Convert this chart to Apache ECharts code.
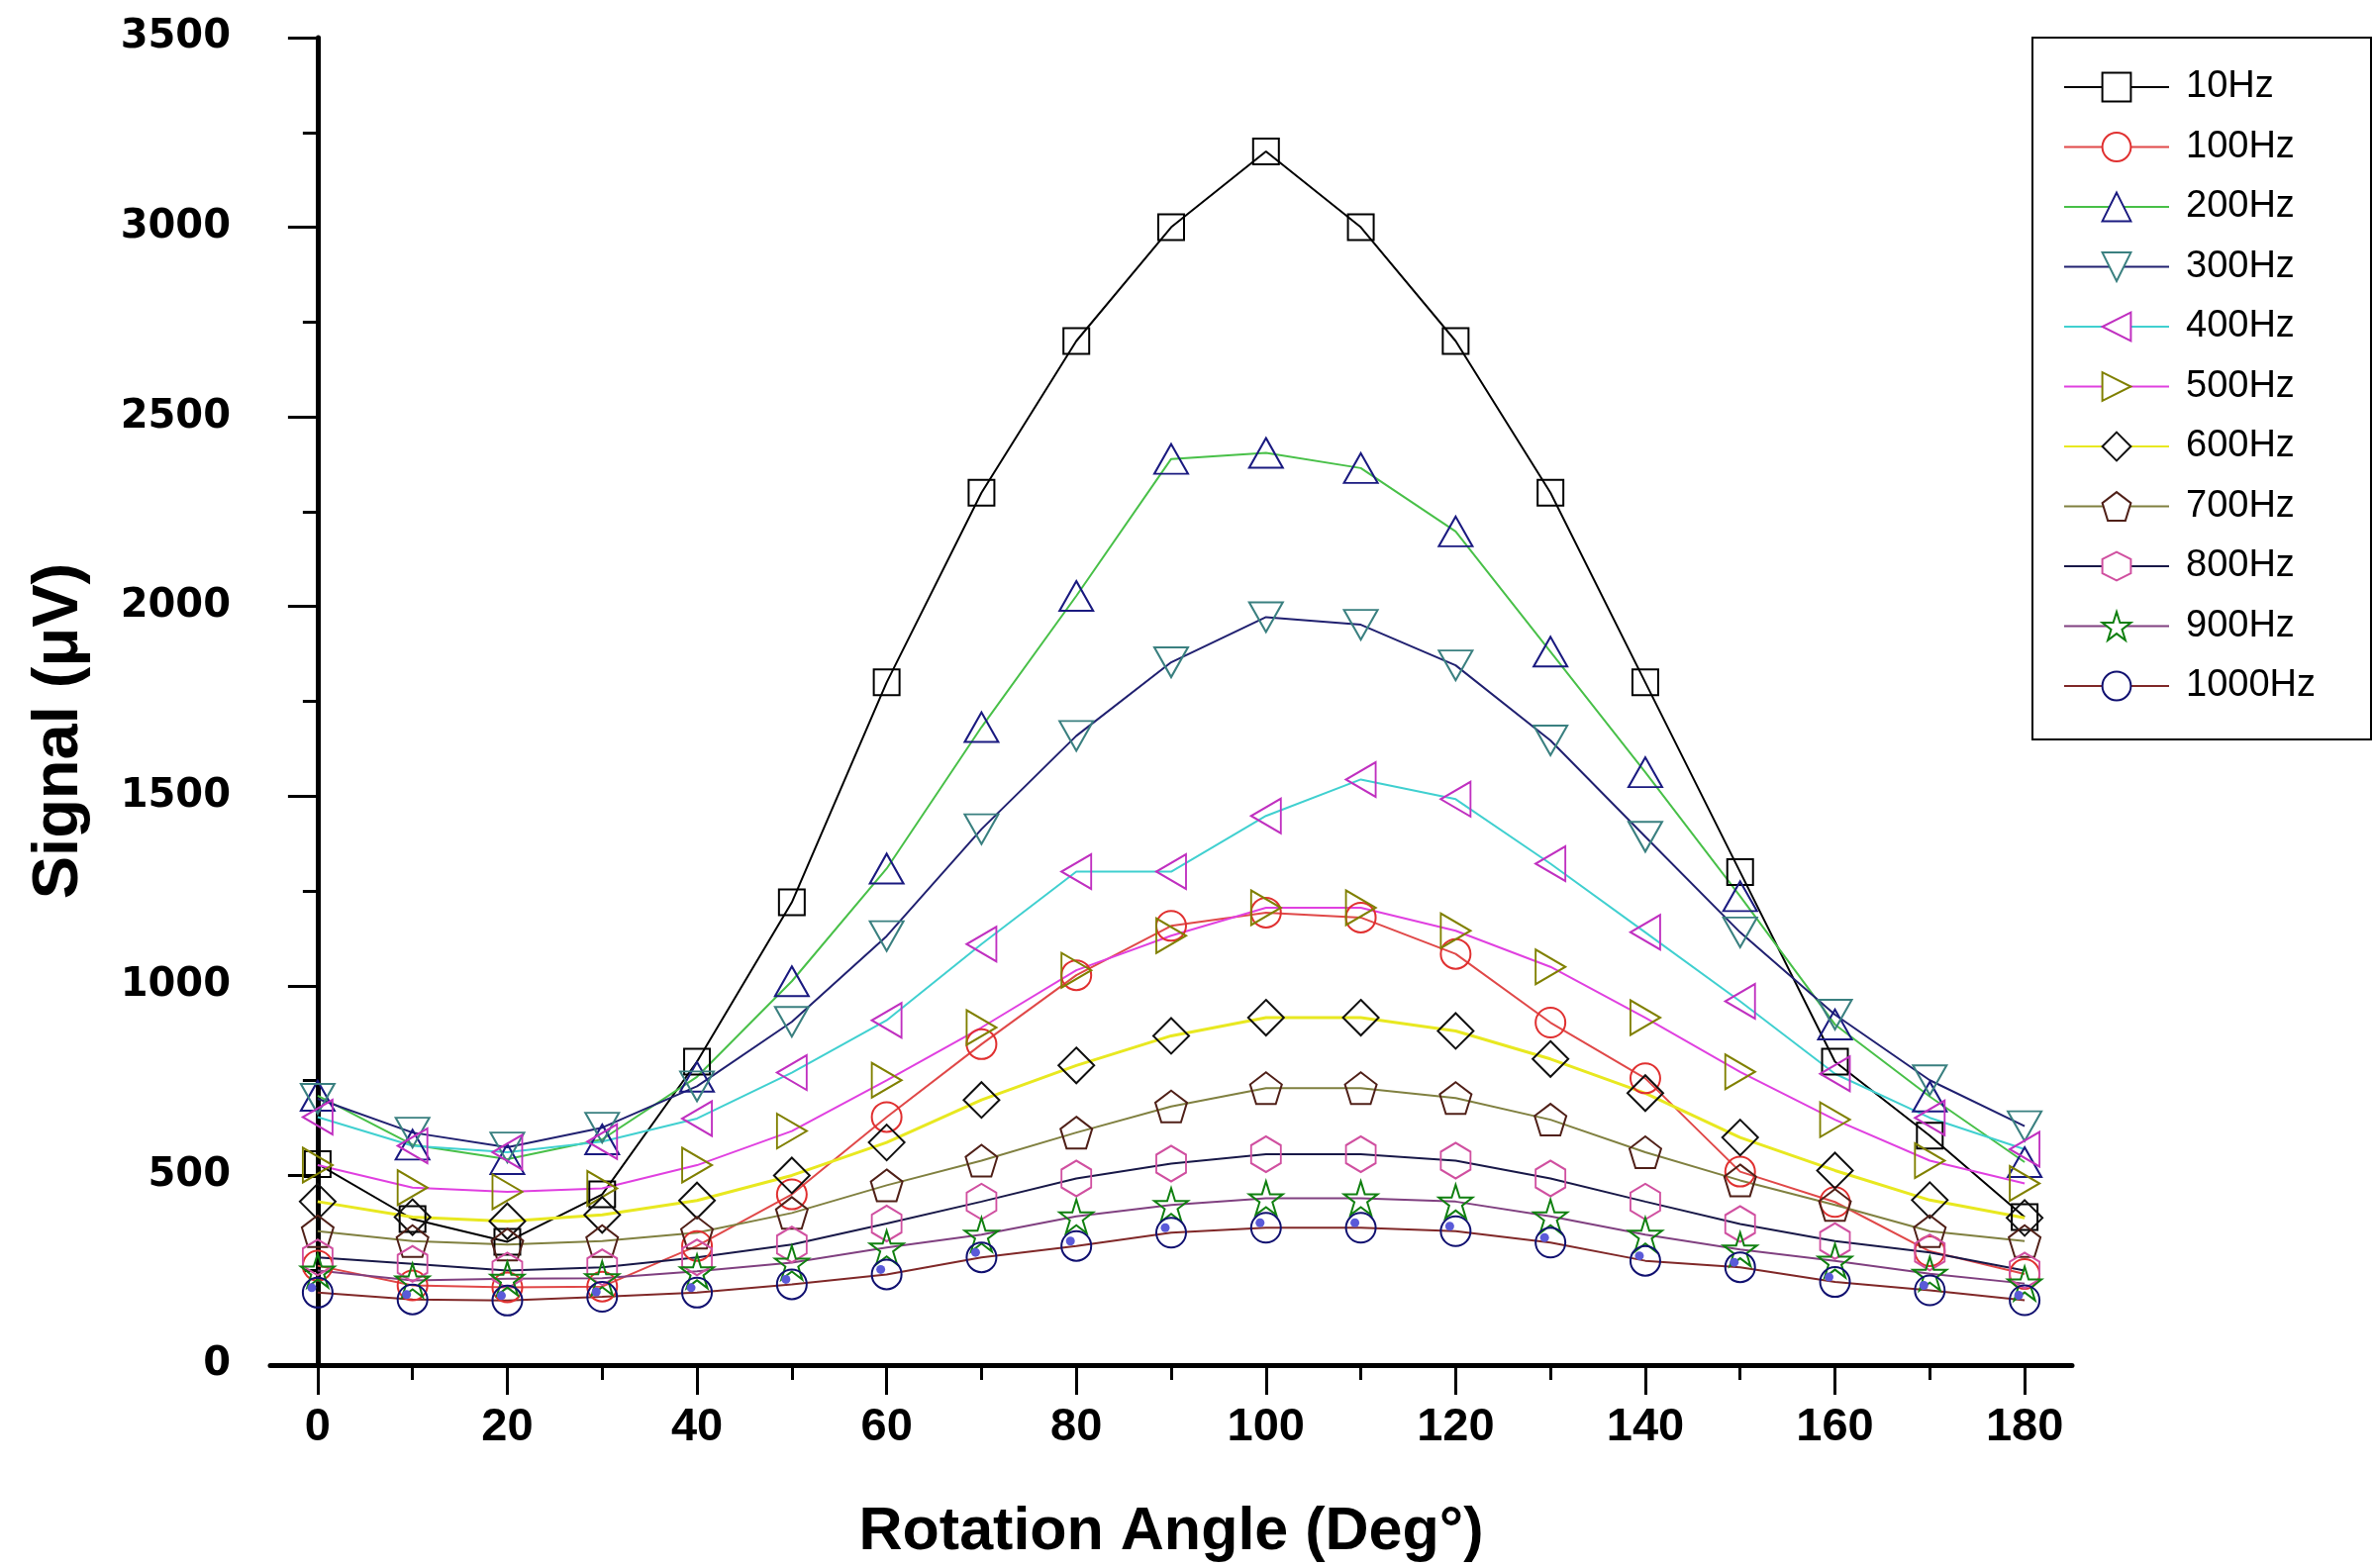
<!DOCTYPE html>
<html>
<head>
<meta charset="utf-8">
<script src="https://cdn.jsdelivr.net/npm/echarts@6/dist/echarts.min.js"></script>
<style>html,body{margin:0;padding:0;background:#fff;}#chart{width:2398px;height:1584px;}</style>
</head>
<body>
<div id="chart"></div>
<script>
// ---- data ----
var angles = [0,10,20,30,40,50,60,70,80,90,100,110,120,130,140,150,160,170,180];
var seriesNames = ['10Hz','100Hz','200Hz','300Hz','400Hz','500Hz','600Hz','700Hz','800Hz','900Hz','1000Hz'];
var s10   = [530,385,325,450,800,1220,1800,2300,2700,3000,3200,3000,2700,2300,1800,1300,800,605,390];
var s100  = [262,210,205,207,314,450,654,846,1028,1158,1193,1180,1084,903,756,510,430,300,240];
var s200  = [710,581,543,595,760,1012,1309,1682,2028,2389,2405,2365,2198,1881,1563,1236,898,708,535];
var s300  = [702,613,574,626,735,905,1131,1413,1659,1853,1972,1952,1845,1647,1393,1141,924,751,630];
var s400  = [654,578,561,589,650,771,909,1110,1301,1301,1448,1544,1492,1322,1141,959,768,652,569];
var s500  = [527,468,457,466,527,617,751,890,1041,1132,1206,1206,1145,1050,916,773,647,539,479];
var s600  = [431,390,379,396,434,500,587,699,790,868,916,916,881,807,717,600,513,435,388];
var s700  = [353,327,318,327,349,401,474,539,613,682,730,730,704,647,561,487,422,353,327];
var s800  = [284,267,249,258,284,318,373,431,492,531,556,556,539,492,431,372,327,297,249];
var s900  = [249,223,228,229,247,270,310,344,392,422,440,440,431,392,344,305,275,241,215];
var s1000 = [191,173,170,180,191,213,239,284,314,349,362,362,353,323,275,258,219,197,171];
var xMajorTicks = [0,20,40,60,80,100,120,140,160,180];
var xMinorTicks = [10,30,50,70,90,110,130,150,170];

var allValues = [s10,s100,s200,s300,s400,s500,s600,s700,s800,s900,s1000];

// ---- styles ----
var lineColors = ['#000000','#e04848','#48c048','#202070','#40d0d0','#e040e0','#e8e820','#808040','#181848','#804080','#802828'];
var markColors = ['#000000','#e03030','#1a1a80','#3a8080','#c030c0','#808000','#101010','#502018','#d050a0','#108010','#101070'];
var symbols = [
  'rect',
  'circle',
  'triangle',
  'path://M0,0 L100,0 L50,86.6 Z',
  'path://M86.6,0 L86.6,100 L0,50 Z',
  'path://M0,0 L86.6,50 L0,100 Z',
  'diamond',
  'path://M50,0 L97.55,34.55 L79.39,90.45 L20.61,90.45 L2.45,34.55 Z',
  'path://M50,0 L93.3,25 L93.3,75 L50,100 L6.7,75 L6.7,25 Z',
  'path://M50,0 L61.23,34.55 L97.55,34.55 L68.17,55.9 L79.39,90.45 L50,69.1 L20.61,90.45 L31.83,55.9 L2.45,34.55 L38.77,34.55 Z',
  'circle'
];
var sizes = [26, 30, [34,30], [34,30], [30,35], [30,35], 36, 32, [30,36], 34, 30];

function pairs(vals){ return angles.map(function(a,i){ return [a, vals[i]]; }); }

var series = seriesNames.map(function(name, k){
  return {
    name: name,
    type: 'line',
    xAxisIndex: 0,
    data: pairs(allValues[k]),
    symbol: symbols[k],
    symbolSize: sizes[k],
    showAllSymbol: true,
    lineStyle: { color: lineColors[k], width: k === 6 ? 3 : 2 },
    itemStyle: { color: 'transparent', borderColor: markColors[k], borderWidth: 2 },
    emphasis: { disabled: true },
    z: 2
  };
});
series.push({
  name: '1000Hz dot',
  type: 'line',
  xAxisIndex: 0,
  data: pairs(s1000),
  symbol: 'circle',
  symbolSize: 9,
  symbolOffset: [-6, -5],
  lineStyle: { width: 0, opacity: 0 },
  itemStyle: { color: '#5a5ad8', borderWidth: 0 },
  emphasis: { disabled: true },
  silent: true,
  z: 3
});

var chart = echarts.init(document.getElementById('chart'), null, { renderer: 'canvas' });
chart.setOption({
  animation: false,
  backgroundColor: '#ffffff',
  grid: { left: 273, right: 305, top: 38, bottom: 198 },
  legend: {
    data: seriesNames,
    orient: 'vertical',
    left: 2053,
    top: 38,
    padding: [31, 56, 35, 31],
    itemWidth: 106,
    itemHeight: 36,
    itemGap: 22.5,
    borderColor: '#000',
    borderWidth: 2,
    backgroundColor: '#fff',
    itemStyle: { color: '#fff', borderWidth: 2 },
    textStyle: { fontFamily: 'Liberation Sans', fontSize: 38, color: '#000', padding: [0, 0, 0, 12] }
  },
  xAxis: [{
    type: 'value',
    min: -5,
    max: 185,
    position: 'bottom',
    name: 'Rotation Angle (Deg°)',
    nameLocation: 'middle',
    nameGap: 139,
    nameTextStyle: { fontFamily: 'Liberation Sans', fontWeight: 'bold', fontSize: 61, color: '#000' },
    axisLine: { show: true, onZero: false, lineStyle: { color: '#000', width: 5 } },
    axisTick: { show: true, inside: false, length: 30, customValues: xMajorTicks, lineStyle: { color: '#000', width: 3 } },
    axisLabel: { show: true, customValues: xMajorTicks, margin: 40, fontFamily: 'Liberation Sans', fontWeight: 'bold', fontSize: 47, color: '#000' },
    splitLine: { show: false }
  }, {
    type: 'value',
    min: -5,
    max: 185,
    position: 'bottom',
    axisLine: { show: false },
    axisTick: { show: true, inside: false, length: 15, customValues: xMinorTicks, lineStyle: { color: '#000', width: 3 } },
    axisLabel: { show: false },
    splitLine: { show: false }
  }],
  yAxis: {
    type: 'value',
    min: 0,
    max: 3500,
    interval: 500,
    name: 'Signal (μV)',
    nameLocation: 'middle',
    nameGap: 180,
    nameTextStyle: { fontFamily: 'Liberation Sans', fontWeight: 'bold', fontSize: 65, color: '#000', padding: [0, 60, 0, 0] },
    axisLine: { show: true, lineStyle: { color: '#000', width: 5 } },
    axisTick: { show: true, inside: false, length: 30, lineStyle: { color: '#000', width: 3 } },
    minorTick: { show: true, splitNumber: 2, length: 15, lineStyle: { color: '#000', width: 3 } },
    axisLabel: { margin: 40, fontFamily: 'DejaVu Sans', fontWeight: 'bold', fontSize: 40, color: '#000', formatter: function(v){ return String(v); } },
    splitLine: { show: false },
    minorSplitLine: { show: false }
  },
  series: series
});
</script>
</body>
</html>
